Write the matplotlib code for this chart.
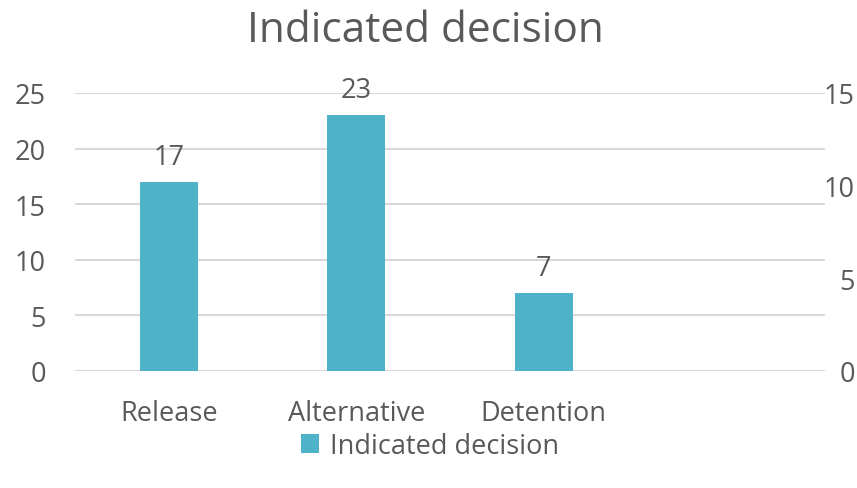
import matplotlib.pyplot as plt
import numpy as np

categories = ["Release", "Alternative", "Detention", ""]
values = [17, 23, 7, None]
left_ticks = [0, 5, 10, 15, 20, 25]
right_ticks = [0, 5, 10, 15]

bar_color = "#4EB3C8"
text_color = "#595959"
grid_color = "#D9D9D9"

plt.rcParams['font.family'] = ['Open Sans', 'DejaVu Sans']

fig = plt.figure(figsize=(8.57, 4.89), dpi=100)
ax = fig.add_axes([75 / 857, 1 - 372 / 489, 750 / 857, 278 / 489])

x = np.arange(len(categories))
shown = [v if v is not None else 0 for v in values]
bars = ax.bar(x, shown, width=0.31, color=bar_color, label="Indicated decision", zorder=3)
for xi, v in zip(x, values):
    if v is not None:
        ax.text(xi, v + 1.0, str(v), ha="center", va="bottom", fontsize=19.5, color=text_color)

ax.set_xlim(-0.5, len(categories) - 0.5)
ax.set_ylim(0, 25)
ax.set_yticks(left_ticks)
ax.set_xticks(x[:3])
ax.set_xticklabels(categories[:3])
ax.yaxis.grid(True, color=grid_color, linewidth=1.5, zorder=0)
for s in ax.spines.values():
    s.set_visible(False)
ax.tick_params(axis="both", length=0, colors=text_color, labelsize=19.5)
ax.tick_params(axis="y", pad=21)
ax.tick_params(axis="x", pad=20)

ax2 = ax.twinx()
ax2.set_ylim(0, 15)
ax2.set_yticks(right_ticks)
for s in ax2.spines.values():
    s.set_visible(False)
ax2.tick_params(axis="y", length=0, colors=text_color, labelsize=19.5, pad=21.5)
for lab in ax2.get_yticklabels():
    lab.set_horizontalalignment("right")

fig.text(425 / 857, 1 - 31 / 489, "Indicated decision", ha="center", va="center",
         fontsize=30.5, color=text_color)

leg = fig.legend(handles=[bars], loc="center", bbox_to_anchor=(430 / 857, 1 - 447 / 489),
                 frameon=False, fontsize=19.5, handlelength=0.65, handleheight=0.65,
                 handletextpad=0.4)
for t in leg.get_texts():
    t.set_color(text_color)

fig.savefig("out.png", dpi=100)
